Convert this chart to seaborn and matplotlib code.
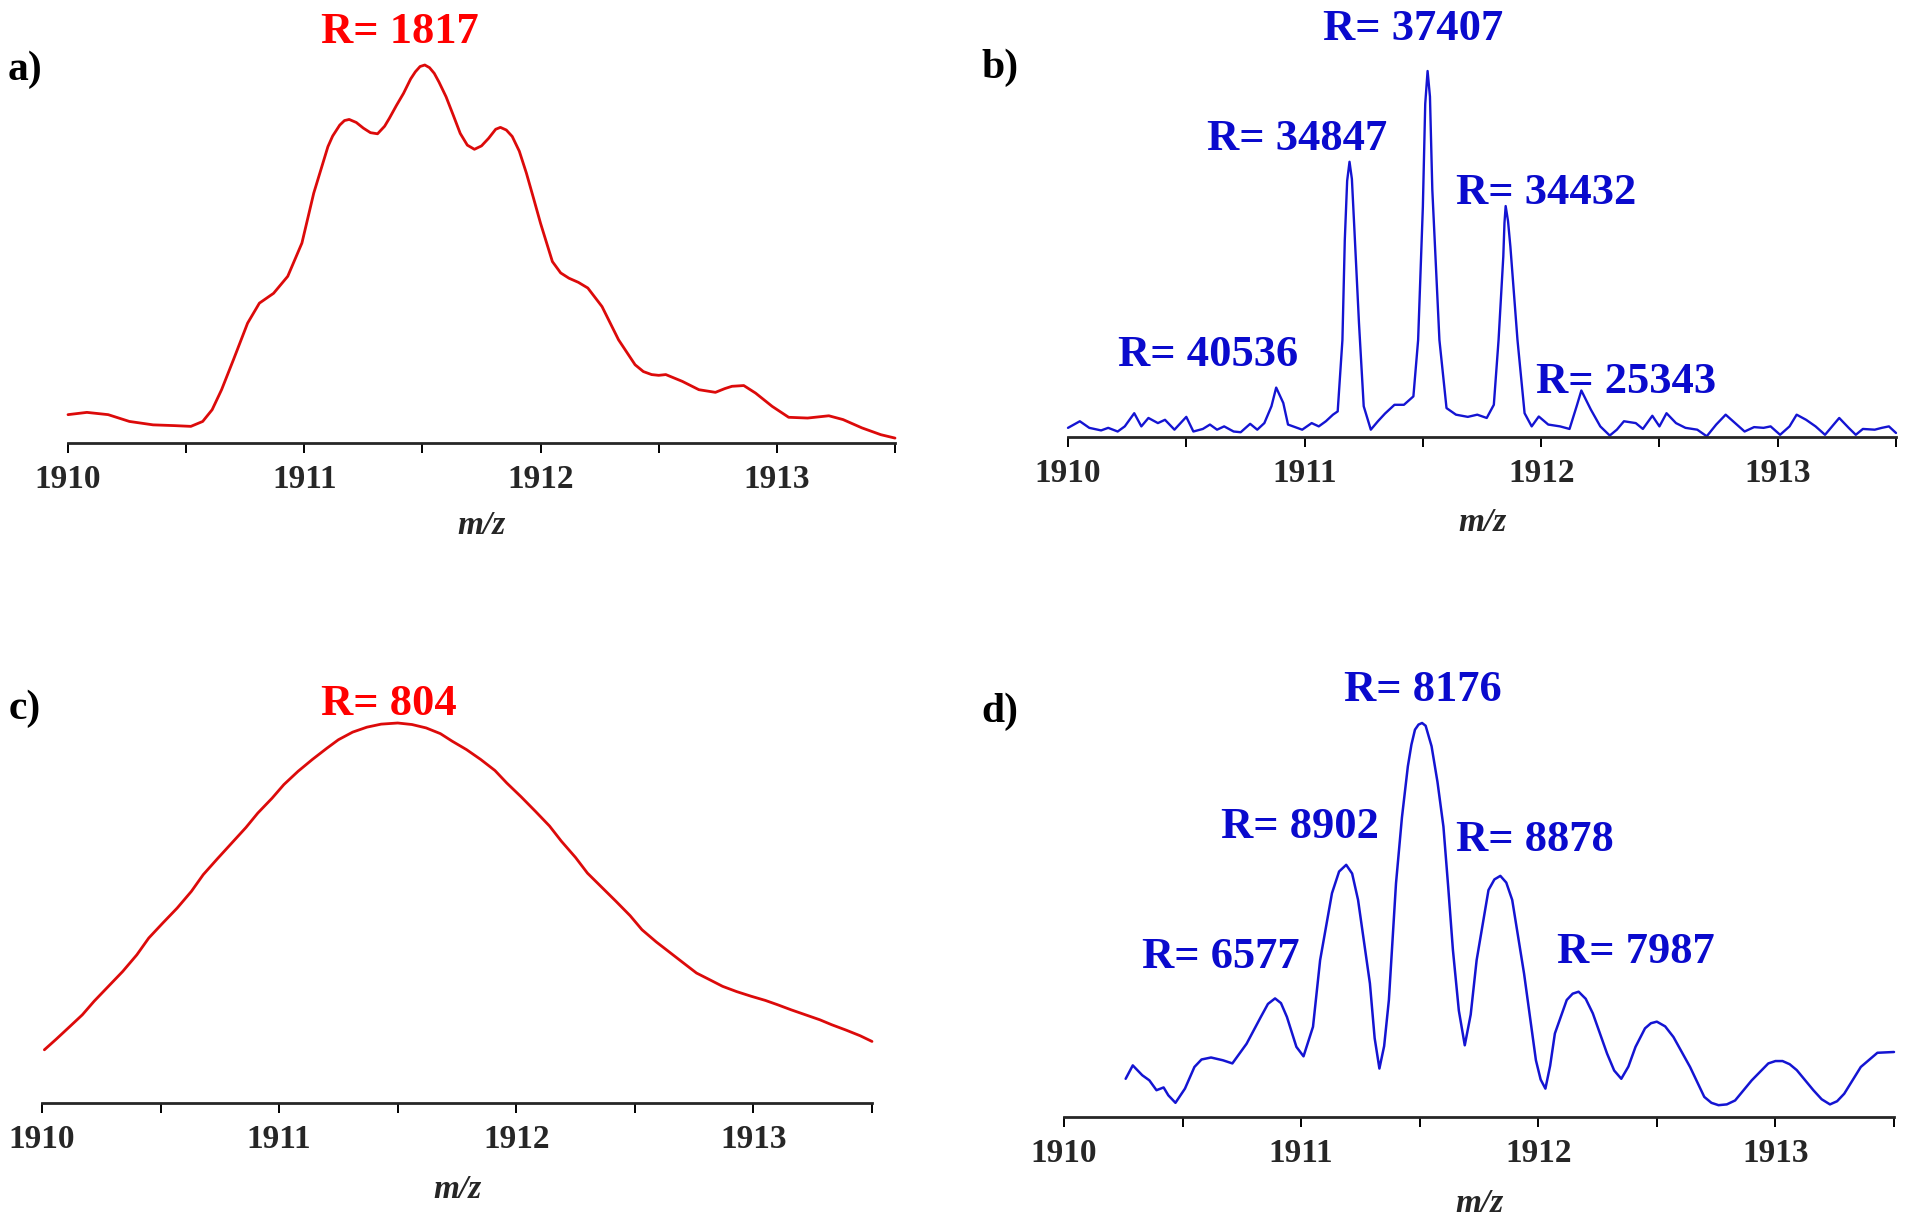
import matplotlib
matplotlib.use("Agg")
import matplotlib.pyplot as plt
import seaborn as sns
import pandas as pd

# ---------------- data ----------------
# Panel a: red spectrum, R = 1817
a_mz = [1910.00, 1910.08, 1910.17, 1910.26, 1910.36, 1910.45, 1910.52, 1910.57, 1910.61,
        1910.65, 1910.70, 1910.76, 1910.81, 1910.87, 1910.93, 1910.99, 1911.04, 1911.10,
        1911.12, 1911.15, 1911.17, 1911.19, 1911.22, 1911.25, 1911.28, 1911.31, 1911.34,
        1911.36, 1911.39, 1911.42, 1911.45, 1911.47, 1911.49, 1911.51, 1911.53, 1911.55,
        1911.57, 1911.60, 1911.63, 1911.66, 1911.69, 1911.72, 1911.75, 1911.78, 1911.81,
        1911.83, 1911.855, 1911.88, 1911.91, 1911.94, 1911.97, 1912.00, 1912.05, 1912.085,
        1912.12, 1912.16, 1912.20, 1912.26, 1912.33, 1912.40, 1912.435, 1912.47, 1912.50,
        1912.53, 1912.60, 1912.67, 1912.74, 1912.78, 1912.81, 1912.86, 1912.91, 1912.98,
        1913.05, 1913.13, 1913.22, 1913.28, 1913.36, 1913.44, 1913.50]
a_int = [7.5, 8.1, 7.5, 5.7, 4.8, 4.6, 4.4, 5.7, 8.8,
         14.1, 22.0, 31.7, 37.0, 39.6, 44.1, 52.9, 66.1, 78.4,
         81.2, 84.1, 85.3, 85.6, 84.8, 83.3, 82.1, 81.8, 83.8,
         85.9, 89.3, 92.5, 96.3, 98.2, 99.6, 100.0, 99.3, 97.8,
         95.5, 91.6, 86.8, 81.9, 78.8, 77.7, 78.6, 80.6, 83.0,
         83.5, 82.8, 81.1, 77.2, 71.4, 64.8, 58.1, 48.0, 45.0,
         43.6, 42.5, 41.0, 36.1, 27.3, 20.7, 18.9, 18.1, 17.9,
         18.1, 16.3, 14.1, 13.4, 14.4, 15.0, 15.2, 13.2, 9.7,
         6.8, 6.6, 7.2, 6.2, 4.0, 2.2, 1.3]

# Panel b: blue spectrum, isotopes resolved
b_mz = [1910.00, 1910.05, 1910.09, 1910.14, 1910.17, 1910.21, 1910.24, 1910.28, 1910.31,
        1910.34, 1910.38, 1910.41, 1910.45, 1910.50, 1910.53, 1910.57, 1910.60, 1910.63,
        1910.66, 1910.70, 1910.73, 1910.77, 1910.80, 1910.83, 1910.86, 1910.88, 1910.91,
        1910.93, 1910.96, 1910.99, 1911.03, 1911.06, 1911.09, 1911.12, 1911.14, 1911.16,
        1911.17, 1911.18, 1911.19, 1911.20, 1911.21, 1911.23, 1911.25, 1911.28, 1911.31,
        1911.34, 1911.38, 1911.42, 1911.46, 1911.48, 1911.50, 1911.51, 1911.52, 1911.53,
        1911.54, 1911.57, 1911.60, 1911.64, 1911.69, 1911.73, 1911.77, 1911.80, 1911.82,
        1911.84, 1911.845, 1911.85, 1911.86, 1911.87, 1911.90, 1911.93, 1911.96, 1911.99,
        1912.03, 1912.08, 1912.12, 1912.15, 1912.17, 1912.21, 1912.25, 1912.29, 1912.32,
        1912.35, 1912.40, 1912.43, 1912.47, 1912.50, 1912.53, 1912.57, 1912.61, 1912.66,
        1912.70, 1912.74, 1912.78, 1912.82, 1912.86, 1912.90, 1912.94, 1912.97, 1913.01,
        1913.05, 1913.08, 1913.12, 1913.16, 1913.20, 1913.23, 1913.26, 1913.30, 1913.33,
        1913.36, 1913.41, 1913.44, 1913.47, 1913.50]
b_int = [2.5, 4.3, 2.5, 1.8, 2.5, 1.5, 2.9, 6.5, 2.9,
         5.2, 3.8, 4.7, 2.0, 5.5, 1.5, 2.2, 3.4, 2.0,
         2.9, 1.5, 1.3, 3.6, 2.0, 3.8, 8.4, 13.5, 9.3,
         3.4, 2.7, 2.0, 3.8, 2.9, 4.3, 6.1, 7.0, 26.5,
         53.8, 70.0, 75.2, 70.5, 57.5, 31.1, 8.4, 2.0, 4.3,
         6.4, 8.8, 8.8, 11.1, 26.5, 62.9, 91.0, 100.0, 93.0,
         67.5, 26.5, 7.9, 6.1, 5.5, 6.1, 5.2, 8.8, 26.5,
         49.3, 58.5, 63.1, 59.0, 52.0, 26.5, 6.5, 2.9, 5.6,
         3.4, 2.9, 2.2, 8.4, 12.7, 7.5, 2.9, 0.4, 2.0,
         4.3, 3.8, 2.2, 5.8, 2.9, 6.5, 3.8, 2.5, 2.0,
         0.2, 3.4, 6.1, 3.8, 1.5, 2.7, 2.5, 2.9, 0.6,
         2.9, 6.1, 4.7, 2.9, 0.6, 2.9, 5.2, 2.5, 0.6,
         2.2, 2.0, 2.5, 2.9, 1.1]

# Panel c: red spectrum, R = 804
c_mz = [1910.01, 1910.06, 1910.11, 1910.17, 1910.22, 1910.28, 1910.34, 1910.40, 1910.45,
        1910.51, 1910.57, 1910.63, 1910.68, 1910.74, 1910.80, 1910.86, 1910.91, 1910.97,
        1911.02, 1911.08, 1911.14, 1911.20, 1911.25, 1911.31, 1911.37, 1911.43, 1911.50,
        1911.56, 1911.62, 1911.68, 1911.73, 1911.79, 1911.85, 1911.91, 1911.96, 1912.02,
        1912.08, 1912.14, 1912.19, 1912.25, 1912.30, 1912.36, 1912.42, 1912.48, 1912.53,
        1912.59, 1912.65, 1912.71, 1912.76, 1912.82, 1912.87, 1912.93, 1912.99, 1913.05,
        1913.10, 1913.16, 1913.22, 1913.28, 1913.33, 1913.39, 1913.45, 1913.50]
c_int = [14.0, 16.8, 19.7, 23.2, 26.8, 30.7, 34.6, 39.0, 43.4,
         47.4, 51.3, 55.7, 60.1, 64.3, 68.4, 72.5, 76.3, 80.2,
         83.8, 87.3, 90.4, 93.3, 95.6, 97.6, 98.9, 99.7, 100.0,
         99.6, 98.7, 97.2, 95.2, 93.0, 90.4, 87.5, 84.2, 80.6,
         76.8, 72.9, 68.9, 64.6, 60.5, 56.8, 53.1, 49.3, 45.6,
         42.4, 39.5, 36.6, 34.2, 32.3, 30.7, 29.3, 28.1, 27.0,
         25.9, 24.5, 23.2, 21.9, 20.6, 19.2, 17.7, 16.2]

# Panel d: blue spectrum, partially resolved
d_mz = [1910.26, 1910.29, 1910.33, 1910.36, 1910.39, 1910.42, 1910.44, 1910.47, 1910.51,
        1910.55, 1910.58, 1910.62, 1910.67, 1910.71, 1910.77, 1910.83, 1910.86, 1910.89,
        1910.915, 1910.94, 1910.98, 1911.01, 1911.05, 1911.08, 1911.13, 1911.16, 1911.19,
        1911.215, 1911.24, 1911.29, 1911.31, 1911.33, 1911.35, 1911.37, 1911.40, 1911.425,
        1911.45, 1911.465, 1911.48, 1911.495, 1911.51, 1911.525, 1911.55, 1911.575, 1911.60,
        1911.62, 1911.64, 1911.665, 1911.69, 1911.715, 1911.74, 1911.79, 1911.815, 1911.84,
        1911.865, 1911.89, 1911.94, 1911.99, 1912.01, 1912.03, 1912.05, 1912.07, 1912.12,
        1912.145, 1912.17, 1912.20, 1912.23, 1912.29, 1912.32, 1912.35, 1912.38, 1912.41,
        1912.45, 1912.475, 1912.50, 1912.535, 1912.57, 1912.64, 1912.70, 1912.73, 1912.76,
        1912.795, 1912.83, 1912.90, 1912.97, 1913.00, 1913.03, 1913.06, 1913.09, 1913.16,
        1913.195, 1913.23, 1913.26, 1913.29, 1913.36, 1913.43, 1913.50]
d_int = [9.7, 13.1, 10.6, 9.3, 6.8, 7.5, 5.5, 3.6, 7.2,
         12.7, 14.6, 15.1, 14.4, 13.6, 18.6, 25.4, 28.7, 30.1,
         28.9, 25.4, 17.8, 15.4, 22.9, 39.8, 56.8, 62.3, 64.0,
         61.8, 55.1, 33.9, 20.0, 12.3, 18.0, 29.7, 59.3, 76.0,
         89.0, 94.5, 98.3, 99.6, 100.0, 99.3, 94.1, 85.0, 73.7,
         58.5, 42.4, 27.0, 18.2, 26.0, 39.8, 57.6, 60.3, 61.2,
         59.5, 55.1, 36.4, 14.4, 9.5, 7.2, 13.0, 21.2, 29.7,
         31.3, 31.8, 30.0, 26.3, 16.1, 11.8, 9.7, 12.8, 17.8,
         22.5, 23.8, 24.2, 23.0, 20.3, 12.7, 5.1, 3.6, 3.0,
         3.2, 4.2, 9.3, 13.6, 14.2, 14.2, 13.4, 11.9, 6.8,
         4.5, 3.2, 4.0, 5.9, 12.7, 16.3, 16.5]

tick_values = [1910, 1911, 1912, 1913]
tick_labels = ["1910", "1911", "1912", "1913"]
minor_values = [1910.5, 1911.5, 1912.5, 1913.5]

panel_letters = ["a)", "b)", "c)", "d)"]
a_labels = ["R= 1817"]
b_labels = ["R= 40536", "R= 34847", "R= 37407", "R= 34432", "R= 25343"]
c_labels = ["R= 804"]
d_labels = ["R= 6577", "R= 8902", "R= 8176", "R= 8878", "R= 7987"]

# ---------------- layout / style ----------------
W, H = 1920, 1232
sns.set_style("ticks")
plt.rcParams["font.family"] = ["Liberation Serif", "DejaVu Serif"]
plt.rcParams["font.weight"] = "bold"

RED_LINE = "#dc0a0a"
RED_TEXT = "#ff0000"
BLUE_LINE = "#1414d2"
BLUE_TEXT = "#0a0acd"

fig = plt.figure(figsize=(W / 100, H / 100), dpi=100)


def px_axes(left, right, bottom, top):
    return fig.add_axes([left / W, 1 - bottom / H, (right - left) / W, (bottom - top) / H])


axes_px = {
    "a": (68, 895, 443, 65),
    "b": (1068, 1896, 437, 71),
    "c": (42, 872, 1103, 723),
    "d": (1064, 1894, 1117, 723),
}

panels = {
    "a": (a_mz, a_int, RED_LINE, 2.0),
    "b": (b_mz, b_int, BLUE_LINE, 1.7),
    "c": (c_mz, c_int, RED_LINE, 2.0),
    "d": (d_mz, d_int, BLUE_LINE, 1.8),
}

# anchor positions (m/z, intensity baseline) for the resolution annotations
label_pos = {
    "a": ([1911.405], [105.8]),
    "b": ([1910.592, 1910.968, 1911.458, 1912.020, 1912.358], [19.4, 78.4, 108.5, 63.7, 12.0]),
    "c": ([1911.463], [102.1]),
    "d": ([1910.662, 1910.995, 1911.514, 1911.987, 1912.412], [37.8, 70.8, 105.6, 67.5, 39.1]),
}
label_text = {"a": a_labels, "b": b_labels, "c": c_labels, "d": d_labels}
label_color = {"a": RED_TEXT, "b": BLUE_TEXT, "c": RED_TEXT, "d": BLUE_TEXT}

letter_pos = {"a": (8, 70), "b": (981, 68), "c": (9, 709), "d": (981, 712)}
label_pads = {"a": 11, "b": 13, "c": 14, "d": 14}

for key, letter in zip(["a", "b", "c", "d"], panel_letters):
    ax = px_axes(*axes_px[key])
    mz, inten, col, lw = panels[key]
    df = pd.DataFrame({"mz": mz, "intensity": inten})
    sns.lineplot(data=df, x="mz", y="intensity", ax=ax, color=col, linewidth=lw,
                 sort=False, estimator=None)
    for ln in ax.lines:
        ln.set_clip_on(False)
        ln.set_solid_joinstyle("round")
        ln.set_solid_capstyle("round")
    ax.set_xlim(1910, 1913.5)
    ax.set_ylim(0, 100)
    sns.despine(ax=ax, left=True, top=True, right=True)
    ax.spines["bottom"].set_linewidth(2.0)
    ax.set_yticks([])
    ax.set_ylabel("")
    ax.set_xticks(tick_values)
    ax.set_xticklabels(tick_labels, fontsize=24, fontweight="bold")
    ax.set_xticks(minor_values, minor=True)
    ax.tick_params(axis="x", which="both", direction="out", length=7, width=1.4,
                   color="black", pad=8)
    ax.set_xlabel("m/z", fontsize=24, fontstyle="italic", fontweight="bold",
                  labelpad=label_pads[key])
    ax.patch.set_alpha(0)

    xs, ys = label_pos[key]
    for t, x, y in zip(label_text[key], xs, ys):
        ax.text(x, y, t, ha="center", va="baseline", fontsize=32, fontweight="bold",
                color=label_color[key], clip_on=False)

    lx, ly = letter_pos[key]
    fig.text(lx / W, 1 - ly / H, letter, ha="left", va="center", fontsize=30,
             fontweight="bold", color="black")

fig.savefig("out.png", dpi=100, facecolor="white")
